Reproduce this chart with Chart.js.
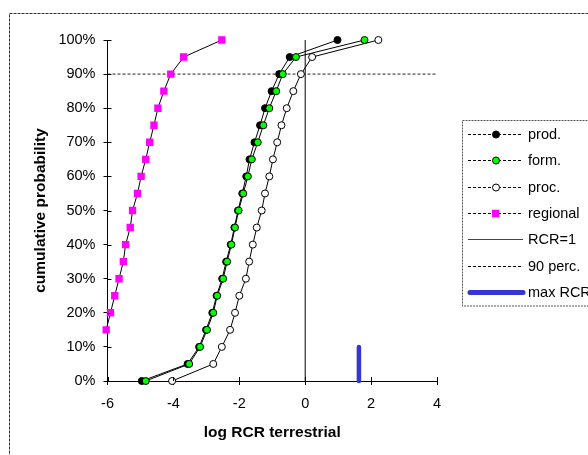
<!DOCTYPE html>
<html lang="en">
<head>
<meta charset="UTF-8">
<title>log RCR terrestrial</title>
<style>
  html, body { margin: 0; padding: 0; background: #fff; overflow: hidden; }
  #wrap { position: relative; width: 588px; height: 455px; }
</style>
</head>
<body>
<div id="wrap"><canvas id="chart" width="588" height="455"></canvas></div>
<script src="https://cdn.jsdelivr.net/npm/chart.js@4.4.0/dist/chart.umd.min.js"></script>
<script>
// cumulative probability levels (%)
const percentiles = [0, 5, 10, 15, 20, 25, 30, 35, 40, 45, 50, 55, 60, 65, 70, 75, 80, 85, 90, 95, 100];
const prod = [-4.96, -3.57, -3.22, -3.01, -2.82, -2.69, -2.52, -2.40, -2.26, -2.15, -2.04, -1.91, -1.79, -1.69, -1.54, -1.37, -1.22, -1.02, -0.79, -0.47, 0.98];
const form = [-4.84, -3.52, -3.19, -2.98, -2.79, -2.67, -2.49, -2.37, -2.24, -2.13, -2.02, -1.88, -1.74, -1.62, -1.44, -1.27, -1.09, -0.88, -0.68, -0.28, 1.80];
const proc = [-4.04, -2.79, -2.53, -2.28, -2.13, -2.00, -1.80, -1.70, -1.59, -1.47, -1.32, -1.22, -1.09, -0.98, -0.85, -0.72, -0.56, -0.36, -0.13, 0.21, 2.22];
const regionalPerc = [10, 15, 20, 25, 30, 35, 40, 45, 50, 55, 60, 65, 70, 75, 80, 85, 90, 95, 100];
const regional = [-6.2, -6.04, -5.91, -5.78, -5.65, -5.52, -5.45, -5.31, -5.24, -5.09, -4.98, -4.84, -4.72, -4.59, -4.47, -4.29, -4.08, -3.69, -2.53];

// reference lines
const rcrOne = 0;
const perc90 = 90;
const maxRcr = 1.63;
const maxRcrTop = 10;

// axes
const xMin = -6, xMax = 4, xStep = 2;
const yMin = 0, yMax = 100, yStep = 10;

const legendLabels = ['prod.', 'form.', 'proc.', 'regional', 'RCR=1', '90 perc.', 'max RCR'];

const pts = (xs, ys) => xs.map((x, i) => ({x: x, y: ys[i]}));

Chart.defaults.font.family = '"Liberation Sans", Arial, sans-serif';
Chart.defaults.color = '#000';

const crossTicks = {
  id: 'crossTicks',
  beforeDraw(chart) {
    const c = chart.ctx;
    c.save();
    c.strokeStyle = '#333';
    c.lineWidth = 1;
    c.setLineDash([3, 1]);
    c.strokeRect(9.5, 13.5, 800, 800);
    c.restore();
  },
  afterDraw(chart) {
    const c = chart.ctx;
    const xs = chart.scales.x, ys = chart.scales.y;
    c.save();
    c.strokeStyle = '#000';
    c.lineWidth = 1;
    c.beginPath();
    xs.ticks.forEach(t => {
      const px = Math.round(xs.getPixelForValue(t.value)) + 0.5;
      c.moveTo(px, ys.bottom);
      c.lineTo(px, ys.bottom - 4);
    });
    ys.ticks.forEach(t => {
      const py = Math.round(ys.getPixelForValue(t.value)) + 0.5;
      c.moveTo(xs.left, py);
      c.lineTo(xs.left + 4, py);
    });
    c.stroke();

    // legend
    c.strokeStyle = '#555';
    c.setLineDash([2, 1]);
    c.strokeRect(462.5, 120.5, 200, 185.5);
    c.font = '14.5px "Liberation Sans", Arial, sans-serif';
    c.textBaseline = 'middle';
    c.fillStyle = '#000';
    legendLabels.forEach((lab, i) => {
      const y = Math.round(134 + 26.3 * i) + 0.5;
      c.save();
      c.lineWidth = 1;
      if (i < 4 || i === 5) {
        c.strokeStyle = '#000';
        c.setLineDash([3, 2]);
      } else if (i === 4) {
        c.strokeStyle = '#444';
        c.setLineDash([]);
      } else {
        c.strokeStyle = '#3535cf';
        c.lineWidth = 5;
        c.lineCap = 'round';
        c.setLineDash([]);
      }
      c.beginPath();
      c.moveTo(i === 6 ? 470 : 468, y);
      c.lineTo(523, y);
      c.stroke();
      c.setLineDash([]);
      if (i < 3) {
        c.beginPath();
        c.arc(496, y, 3.5, 0, Math.PI * 2);
        c.fillStyle = ['#000', '#00ff00', '#fff'][i];
        c.fill();
        c.strokeStyle = '#000';
        c.lineWidth = 1;
        c.stroke();
      } else if (i === 3) {
        c.fillStyle = '#ff00ff';
        c.fillRect(492, y - 3.7, 7.4, 7.4);
      }
      c.restore();
      c.fillText(lab, 528, y);
    });
    c.restore();
  }
};

const seriesBase = {
  showLine: true,
  borderColor: '#000',
  borderWidth: 1,
  pointBorderColor: '#000',
  pointBorderWidth: 1,
  pointRadius: 3.5,
  clip: {left: 8, top: 6, right: 6, bottom: 6}
};

new Chart(document.getElementById('chart'), {
  type: 'scatter',
  data: {
    datasets: [
      Object.assign({}, seriesBase, {label: 'prod.', data: pts(prod, percentiles), pointBackgroundColor: '#000', order: 4}),
      Object.assign({}, seriesBase, {label: 'form.', data: pts(form, percentiles), pointBackgroundColor: '#00ff00', order: 3}),
      Object.assign({}, seriesBase, {label: 'proc.', data: pts(proc, percentiles), pointBackgroundColor: '#fff', order: 2}),
      Object.assign({}, seriesBase, {
        label: 'regional', data: pts(regional, regionalPerc),
        pointStyle: 'rect', pointBackgroundColor: '#ff00ff', pointBorderWidth: 0,
        pointRadius: ctx => (ctx.raw && ctx.raw.x < xMin - 0.1 ? 0 : 5.2), order: 1
      }),
      {label: 'RCR=1', data: pts([rcrOne, rcrOne], [yMin, yMax]), showLine: true, borderColor: '#000', borderWidth: 1, pointRadius: 0, order: 7},
      {label: '90 perc.', data: pts([xMin, xMax], [perc90, perc90]), showLine: true, borderColor: '#222', borderWidth: 1, borderDash: [3, 2], pointRadius: 0, order: 6},
      {label: 'max RCR', data: pts([maxRcr, maxRcr], [yMin, maxRcrTop]), showLine: true, borderColor: '#3535cf', borderWidth: 4.5, borderCapStyle: 'round', pointRadius: 0, order: 0, clip: 6}
    ]
  },
  options: {
    responsive: false,
    animation: false,
    events: [],
    layout: {padding: {left: 10, top: 40, right: 151, bottom: 0}},
    plugins: {legend: {display: false}, tooltip: {enabled: false}},
    scales: {
      x: {
        type: 'linear', min: xMin, max: xMax,
        afterFit: s => { s.height = 74; },
        border: {display: true, color: '#000', width: 1},
        grid: {drawOnChartArea: false, color: '#000', tickLength: 4},
        ticks: {stepSize: xStep, padding: 10, font: {size: 14.5}, callback: v => String(v)},
        title: {display: true, text: 'log RCR terrestrial', font: {size: 15.5, weight: 'bold'}, padding: {top: 0, bottom: 13}}
      },
      y: {
        type: 'linear', min: yMin, max: yMax,
        afterFit: s => { s.width = 97.5; },
        border: {display: true, color: '#000', width: 1},
        grid: {drawOnChartArea: false, color: '#000', tickLength: 4},
        ticks: {stepSize: yStep, padding: 8, font: {size: 14.5}, callback: v => v + '%'},
        title: {display: true, text: 'cumulative probability', font: {size: 15.5, weight: 'bold'}, padding: {top: 21, bottom: 0}}
      }
    }
  },
  plugins: [crossTicks]
});
</script>
</body>
</html>
